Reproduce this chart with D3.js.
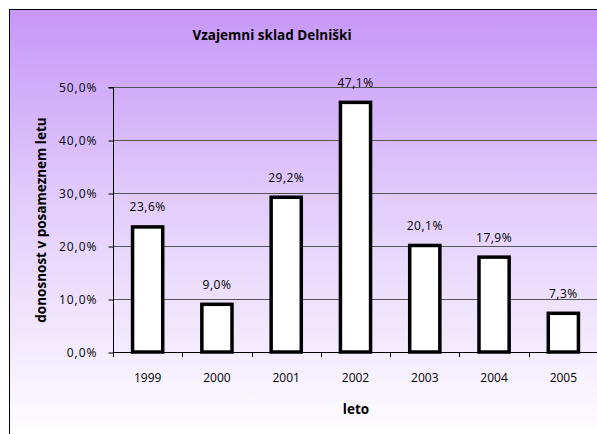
<!DOCTYPE html>
<html><head><meta charset="utf-8">
<script src="https://cdn.jsdelivr.net/npm/d3@7"></script>
<style>body{margin:0;background:#fff}svg{display:block}text{font-family:"Open Sans","Noto Sans",sans-serif}</style>
</head><body>
<script>
const title = "Vzajemni sklad Delniški";
const years = ["1999","2000","2001","2002","2003","2004","2005"];
const values = [23.6, 9.0, 29.2, 47.1, 20.1, 17.9, 7.3];
const yTicks = [0,10,20,30,40,50];
const yTitle = "donosnost v posameznem letu";
const xTitle = "leto";

(function(){
const W=597,H=434;
const svg=d3.select("body").append("svg").attr("width",W).attr("height",H);
const defs=svg.append("defs");
const g=defs.append("linearGradient").attr("id","bg").attr("x1",0).attr("y1",0).attr("x2",0).attr("y2",1);
g.append("stop").attr("offset","0%").attr("stop-color","#c797f8");
g.append("stop").attr("offset","45%").attr("stop-color","#e2cdfb");
g.append("stop").attr("offset","100%").attr("stop-color","#ffffff");
svg.append("rect").attr("x",9.5).attr("y",9.5).attr("width",W).attr("height",H).attr("fill","url(#bg)").attr("stroke","#000").attr("stroke-width",1);

const pl=113,pr=598,pt=87,pb=352;
const x=d3.scaleBand().domain(years).range([pl,pr]).paddingInner(0.565).paddingOuter(0.2825);
const y=d3.scaleLinear().domain([0,50]).range([pb,pt]);
const fmt=v=>d3.format(".1f")(v).replace(".",",")+"%";

svg.append("g").selectAll("line").data(yTicks.filter(d=>d>0)).join("line")
  .attr("x1",pl).attr("x2",W).attr("y1",d=>Math.round(y(d))+0.5).attr("y2",d=>Math.round(y(d))+0.5)
  .attr("stroke","#555").attr("stroke-width",1);

const ya=svg.append("g").attr("transform",`translate(${pl+0.5},0.5)`)
  .call(d3.axisLeft(y).tickValues(yTicks).tickFormat(d=>fmt(d)).tickSize(5).tickPadding(11));
ya.select(".domain").attr("stroke","#000").attr("d",`M-5,${Math.round(y(50))}H0V${Math.round(y(0))}`);
ya.selectAll(".tick line").attr("stroke","#000");
ya.selectAll("text").attr("font-size","12px").attr("letter-spacing","1px").attr("fill","#000");

const band=(pr-pl)/years.length;
const xa=svg.append("g");
xa.append("line").attr("x1",pl).attr("x2",W).attr("y1",pb+0.5).attr("y2",pb+0.5).attr("stroke","#000");
xa.selectAll("line.t").data(d3.range(years.length+1)).join("line").attr("class","t")
  .attr("x1",i=>Math.round(pl+i*band)+0.5).attr("x2",i=>Math.round(pl+i*band)+0.5)
  .attr("y1",pb).attr("y2",pb+5).attr("stroke","#000");
xa.selectAll("text").data(years).join("text")
  .attr("x",d=>x(d)+x.bandwidth()/2).attr("y",pb+30).attr("text-anchor","middle")
  .attr("font-size","12px").text(d=>d);

svg.append("g").selectAll("rect").data(values).join("rect")
  .attr("x",(d,i)=>x(years[i])).attr("width",x.bandwidth())
  .attr("y",d=>y(d)).attr("height",d=>pb-y(d))
  .attr("fill","#fff").attr("stroke","#000").attr("stroke-width",3.5);

svg.append("g").selectAll("text").data(values).join("text")
  .attr("x",(d,i)=>x(years[i])+x.bandwidth()/2).attr("y",d=>y(d)-15.5)
  .attr("text-anchor","middle").attr("font-size","12px").attr("letter-spacing","0.5px").text(d=>fmt(d));

svg.append("text").attr("x",272).attr("y",40).attr("text-anchor","middle")
  .attr("font-size","13.5px").attr("font-weight","bold").text(title);
svg.append("text").attr("transform","translate(46,220) rotate(-90)").attr("text-anchor","middle")
  .attr("font-size","13.5px").attr("font-weight","bold").text(yTitle);
svg.append("text").attr("x",356).attr("y",414).attr("text-anchor","middle")
  .attr("font-size","13.5px").attr("font-weight","bold").text(xTitle);
})();
</script>
</body></html>
